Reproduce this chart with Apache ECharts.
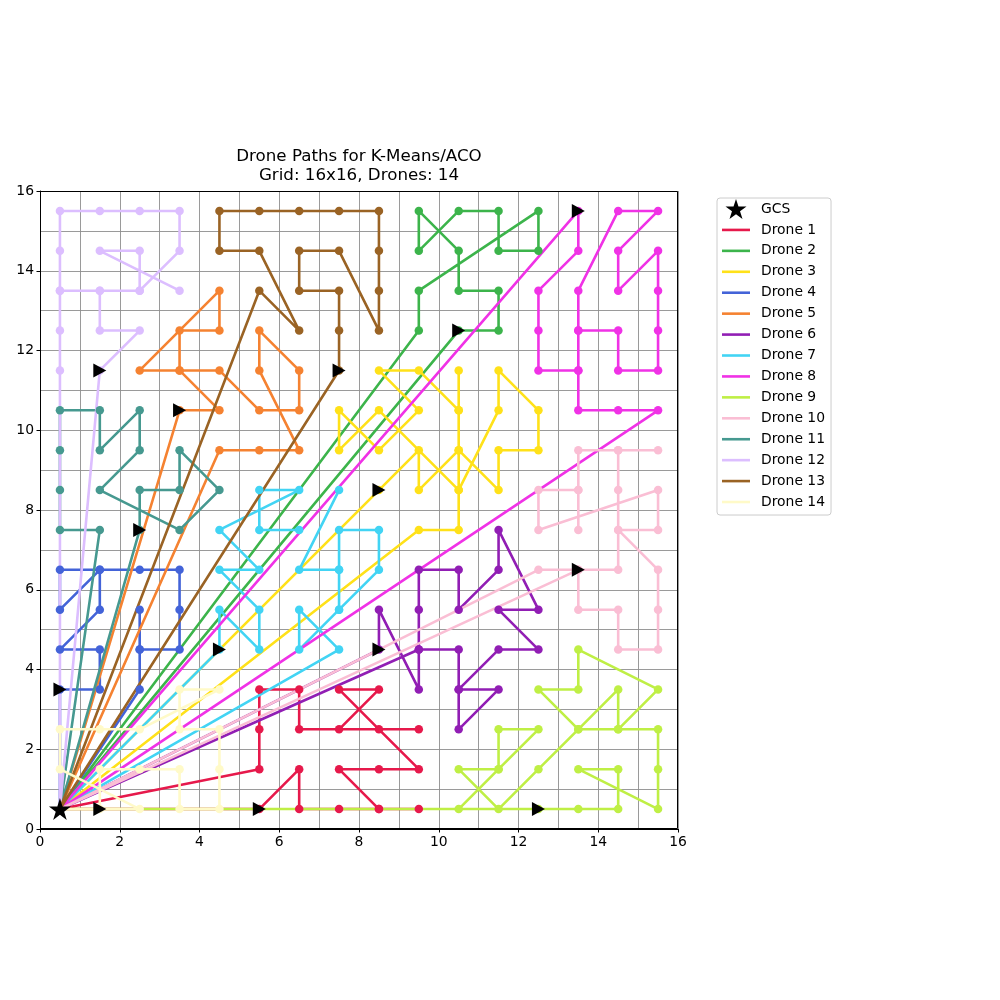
<!DOCTYPE html>
<html><head><meta charset="utf-8">
<script src="https://cdn.jsdelivr.net/npm/echarts@6/dist/echarts.min.js"></script>
<style>html,body{margin:0;padding:0;background:#fff}#c{width:1000px;height:1000px}</style>
</head><body><div id="c"></div>
<script>
// ---- data ----
const GCS = [0.5, 0.5];
const BR = null; // path break
const drone1 = [[5.5,0.5],[6.5,1.5],[6.5,0.5],[7.5,0.5],[8.5,0.5],[9.5,0.5],[8.5,0.5],[7.5,1.5],[8.5,1.5],[9.5,1.5],[8.5,2.5],[7.5,3.5],[8.5,3.5],[7.5,2.5],[9.5,2.5],[6.5,2.5],[6.5,3.5],[5.5,3.5],[5.5,2.5],[5.5,1.5]];
const drone2 = [[10.5,12.5],[11.5,12.5],[11.5,13.5],[10.5,13.5],[10.5,14.5],[9.5,15.5],[9.5,14.5],[10.5,15.5],[11.5,15.5],[11.5,14.5],[12.5,14.5],[12.5,15.5],[9.5,13.5],[9.5,12.5]];
const drone3 = [[8.5,8.5],[9.5,9.5],[9.5,8.5],[10.5,9.5],[11.5,8.5],[11.5,9.5],[12.5,9.5],[12.5,10.5],[11.5,11.5],[11.5,10.5],[10.5,8.5],[8.5,10.5],[7.5,9.5],[7.5,10.5],[8.5,9.5],[9.5,10.5],[8.5,11.5],[9.5,11.5],[10.5,10.5],[10.5,11.5],BR,[10.5,10.5],[10.5,9.5],[10.5,8.5],[10.5,7.5],[9.5,7.5]];
const drone4 = [[0.5,3.5],[1.5,3.5],[1.5,4.5],[0.5,4.5],[1.5,5.5],[1.5,6.5],[0.5,5.5],[0.5,6.5],[1.5,6.5],[2.5,6.5],[3.5,6.5],[3.5,5.5],[3.5,4.5],[2.5,4.5],[2.5,5.5],BR,[2.5,4.5],[2.5,3.5]];
const drone5 = [[3.5,10.5],[4.5,10.5],[3.5,11.5],[3.5,12.5],[4.5,12.5],[4.5,13.5],[2.5,11.5],[3.5,11.5],[4.5,11.5],[5.5,10.5],[6.5,10.5],[6.5,11.5],[5.5,12.5],[5.5,11.5],[6.5,9.5],[5.5,9.5],[4.5,9.5]];
const drone6 = [[8.5,4.5],[8.5,5.5],[9.5,3.5],[9.5,4.5],[9.5,5.5],[9.5,6.5],[10.5,6.5],[10.5,5.5],[11.5,6.5],[11.5,7.5],[12.5,5.5],[11.5,5.5],[12.5,4.5],[11.5,4.5],[10.5,3.5],[11.5,3.5],[10.5,2.5],[10.5,3.5],[10.5,4.5],[9.5,4.5]];
const drone7 = [[4.5,4.5],[4.5,5.5],[5.5,4.5],[5.5,5.5],[4.5,6.5],[5.5,6.5],[4.5,7.5],[6.5,8.5],[5.5,8.5],[5.5,7.5],[6.5,7.5],BR,[7.5,8.5],[6.5,6.5],[7.5,6.5],[7.5,5.5],BR,[7.5,6.5],[7.5,7.5],[8.5,7.5],[8.5,6.5],[7.5,5.5],[6.5,4.5],[6.5,5.5],[7.5,4.5]];
const drone8 = [[13.5,15.5],[13.5,14.5],[12.5,13.5],[12.5,12.5],[12.5,11.5],[13.5,11.5],[13.5,12.5],[13.5,13.5],[14.5,15.5],[15.5,15.5],[14.5,14.5],[14.5,13.5],[15.5,14.5],[15.5,13.5],[15.5,12.5],[15.5,11.5],[14.5,11.5],[14.5,12.5],[13.5,12.5],BR,[13.5,11.5],[13.5,10.5],[14.5,10.5],[15.5,10.5]];
const drone9 = [[12.5,0.5],[13.5,0.5],[14.5,0.5],[14.5,1.5],[13.5,1.5],[15.5,0.5],[15.5,1.5],[15.5,2.5],[14.5,2.5],[13.5,2.5],[12.5,3.5],[13.5,3.5],[13.5,4.5],[15.5,3.5],[14.5,2.5],[14.5,3.5],[13.5,2.5],[12.5,1.5],[11.5,0.5],[10.5,1.5],[11.5,1.5],[11.5,2.5],[12.5,2.5],[11.5,1.5],[10.5,0.5]];
const drone10 = [[13.5,6.5],[13.5,5.5],[14.5,5.5],[14.5,4.5],[15.5,4.5],[15.5,5.5],[15.5,6.5],[14.5,7.5],[15.5,7.5],[15.5,8.5],[12.5,7.5],[12.5,8.5],[13.5,8.5],[13.5,7.5],BR,[13.5,8.5],[13.5,9.5],[14.5,9.5],[15.5,9.5],BR,[14.5,9.5],[14.5,8.5],[14.5,7.5],[14.5,6.5],[13.5,6.5],[12.5,6.5]];
const drone11 = [[2.5,7.5],[2.5,8.5],[3.5,8.5],[3.5,9.5],[4.5,8.5],[3.5,7.5],[1.5,8.5],[2.5,9.5],[2.5,10.5],[1.5,9.5],[1.5,10.5],[0.5,10.5],[0.5,9.5],[0.5,8.5],[0.5,7.5],[1.5,7.5]];
const drone12 = [[1.5,11.5],[2.5,12.5],[1.5,12.5],[1.5,13.5],[2.5,13.5],[2.5,14.5],[1.5,14.5],[3.5,13.5],BR,[0.5,13.5],[1.5,13.5],BR,[2.5,13.5],[3.5,14.5],[3.5,15.5],[2.5,15.5],[1.5,15.5],[0.5,15.5],[0.5,14.5],[0.5,13.5],[0.5,12.5],[0.5,11.5]];
const drone13 = [[7.5,11.5],[7.5,12.5],[7.5,13.5],[6.5,13.5],[6.5,14.5],[7.5,14.5],[8.5,12.5],[8.5,13.5],[8.5,14.5],[8.5,15.5],[7.5,15.5],[6.5,15.5],[5.5,15.5],[4.5,15.5],[4.5,14.5],[5.5,14.5],[6.5,12.5],[5.5,13.5]];
const drone14 = [[1.5,0.5],[1.5,1.5],[2.5,1.5],[3.5,1.5],[3.5,0.5],[4.5,0.5],[4.5,1.5],[4.5,2.5],[3.5,2.5],[3.5,3.5],[4.5,3.5],[2.5,2.5],[1.5,2.5],[0.5,2.5],[0.5,1.5],[2.5,0.5]];
const dronePaths = [drone1,drone2,drone3,drone4,drone5,drone6,drone7,drone8,drone9,drone10,drone11,drone12,drone13,drone14];
const droneNames = ['Drone 1','Drone 2','Drone 3','Drone 4','Drone 5','Drone 6','Drone 7','Drone 8','Drone 9','Drone 10','Drone 11','Drone 12','Drone 13','Drone 14'];
const droneColors = ['#e6194b','#3cb44b','#ffe119','#4363d8','#f58231','#911eb4','#42d4f4','#f032e6','#bfef45','#fabed4','#469990','#dcbeff','#9a6324','#fffac8'];
const axisMin = 0, axisMax = 16, tickStep = 2;
const titleLines = ['Drone Paths for K-Means/ACO', 'Grid: 16x16, Drones: 14'];

// ---- build ----
const STAR = 'path://M50,0 L61.2,34.5 L97.6,34.5 L68.2,55.9 L79.4,90.5 L50,69.1 L20.6,90.5 L31.8,55.9 L2.4,34.5 L38.8,34.5 Z';
const ARROW = 'path://M0,0 L10,5 L0,10 Z';
const LINE_ICON = 'path://M0,0 H28 V2.6 H0 Z';
const FONT = 'DejaVu Sans';
const series = [];
const gridLine = {color:'#8f8f8f', width:0.9};

dronePaths.forEach((p, i) => {
  const data = [GCS.slice()];
  p.forEach(pt => { data.push(pt === null ? ['-','-'] : pt.slice()); });
  data.push(GCS.slice());
  series.push({
    type:'line', name: droneNames[i], data, symbol:'none', connectNulls:false,
    lineStyle:{color: droneColors[i], width:2.6, cap:'round', join:'round'},
    itemStyle:{color: droneColors[i]}, z:2, silent:true, animation:false
  });
});
dronePaths.forEach((p, i) => {
  series.push({
    type:'scatter', name:'_pts'+i, data: p.filter(pt => pt !== null), symbol:'circle', symbolSize:8.5,
    itemStyle:{color: droneColors[i], opacity:1}, z:3, silent:true, animation:false
  });
});
series.push({
  type:'scatter', name:'_start', data: dronePaths.map(p => p[0]), symbol: ARROW, symbolSize:[13,14],
  itemStyle:{color:'#000', opacity:1}, z:4, silent:true, animation:false
});
series.push({
  type:'scatter', name:'GCS', data:[GCS], symbol: STAR, symbolSize:22,
  itemStyle:{color:'#000', opacity:1}, z:5, silent:true, animation:false
});

const axisCommon = {
  type:'value', min:axisMin, max:axisMax, interval:tickStep,
  splitLine:{show:true, lineStyle:gridLine},
  minorTick:{show:false, splitNumber:2},
  minorSplitLine:{show:true, lineStyle:gridLine},
  axisLine:{show:true, onZero:false, lineStyle:{color:'#000', width:1}},
  axisTick:{show:true, length:3.5, lineStyle:{color:'#000', width:1}},
  axisLabel:{color:'#000', fontSize:13.9, fontFamily:FONT, margin:6}
};

const chart = echarts.init(document.getElementById('c'), null, {renderer:'canvas'});
chart.setOption({
  animation:false,
  backgroundColor:'#fff',
  grid:{left:40, top:191, width:638, height:638, containLabel:false},
  xAxis: axisCommon,
  yAxis: Object.assign({}, axisCommon),
  legend:{
    orient:'vertical', left:717, top:198,
    data:[{name:'GCS', icon: STAR, itemStyle:{color:'#000', opacity:1}}].concat(droneNames.map((n, i) => ({name:n, icon: LINE_ICON, itemStyle:{color: droneColors[i], opacity:1}}))),
    itemWidth:28, itemHeight:20, itemGap:0.93,
    symbolKeepAspect:true,
    padding:[1,6,3,5],
    textStyle:{fontSize:13.9, fontFamily:FONT, color:'#000', lineHeight:20, height:20, padding:[0,0,0,6]},
    borderColor:'#cccccc', borderWidth:1, borderRadius:3,
    backgroundColor:'rgba(255,255,255,0.8)',
    selectedMode:false
  },
  graphic:[
    {type:'text', x:359, y:157, z:10, style:{text:titleLines[0], fill:'#000', font:'16.7px "DejaVu Sans"', textAlign:'center', textVerticalAlign:'middle'}},
    {type:'text', x:359, y:176, z:10, style:{text:titleLines[1], fill:'#000', font:'16.7px "DejaVu Sans"', textAlign:'center', textVerticalAlign:'middle'}},
    {type:'rect', z:20, silent:true, shape:{x:40.5, y:191.5, width:637, height:637}, style:{fill:'none', stroke:'#000', lineWidth:1}}
  ],
  series
});
</script></body></html>
